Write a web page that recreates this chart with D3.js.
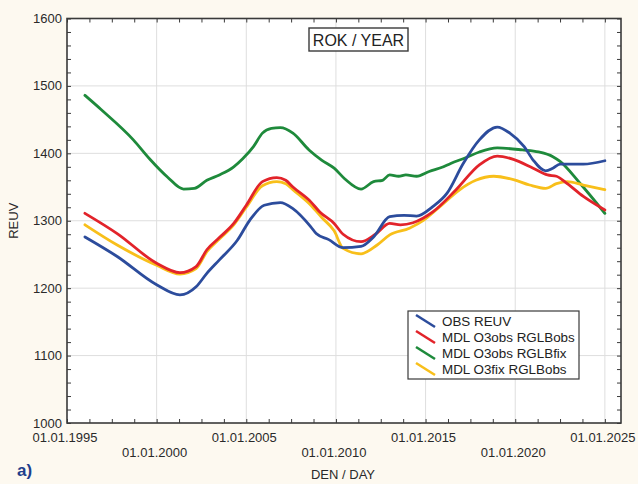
<!DOCTYPE html>
<html>
<head>
<meta charset="utf-8">
<script src="https://cdn.jsdelivr.net/npm/d3@7"></script>
<style>
  html, body { margin: 0; padding: 0; background: #fdf9f0; }
  svg { display: block; font-family: "Liberation Sans", Arial, sans-serif; }
</style>
</head>
<body>
<svg id="chart" width="638" height="484"></svg>
<script>
// Yearly running means of UV erythemal dose: observation and model runs
const obsReuv = [
  [1996,1276],[1997.8,1247],[2000,1205],[2001.3,1190],[2002.2,1202],[2002.8,1222],
  [2003.5,1242],[2004.5,1271],[2005.2,1301],[2006,1323],[2006.9,1327],[2007.6,1318],
  [2008.6,1291],[2008.9,1281],[2009.6,1272],[2010.4,1260],[2011.4,1262],[2012.1,1276],
  [2013,1306],[2013.8,1308],[2014.5,1307],[2015.4,1321],[2016.2,1341],[2017.1,1385],
  [2018,1420],[2019,1439],[2019.7,1430],[2020.5,1410],[2021,1390],[2021.7,1374],
  [2022.1,1378],[2022.5,1384],[2023.8,1384],[2025,1389]
];
const mdlO3obsRglbObs = [
  [1996,1311],[1997.8,1281],[2000,1237],[2001.3,1223],[2002.2,1232],
  [2002.8,1257],[2003.5,1275],[2004.3,1296],[2005,1323],[2005.9,1358],[2006.7,1364],
  [2007.2,1360],[2007.6,1350],[2008.6,1328],[2009.1,1313],[2009.9,1296],[2010.4,1280],
  [2011.4,1269],[2012.2,1280],[2013,1296],[2013.6,1294],[2014.3,1297],[2015.4,1313],
  [2016.7,1346],[2018,1383],[2019,1396],[2019.9,1391],[2021,1378],[2021.8,1368],
  [2022.3,1366],[2022.9,1355],[2023.8,1336],[2025,1316]
];
const mdlO3obsRglbFix = [
  [1996,1486],[1996.9,1465],[1998.7,1420],[1999.6,1392],[2000.6,1365],[2001.5,1347],
  [2002.1,1348],[2002.8,1360],[2003.5,1368],[2004.3,1380],[2004.8,1392],[2005.4,1410],
  [2005.9,1430],[2006.4,1437],[2006.9,1438],[2007.6,1430],[2008.5,1405],[2009.2,1390],
  [2009.9,1378],[2010.5,1362],[2011.4,1347],[2012.1,1358],[2012.6,1360],[2013,1368],
  [2013.5,1366],[2013.9,1368],[2014.5,1366],[2015.2,1373],[2016,1380],[2016.4,1385],
  [2017.2,1393],[2018,1402],[2019,1408],[2020.4,1405],[2021.3,1402],[2022.1,1395],
  [2022.5,1388],[2023.6,1356],[2025,1311]
];
const mdlO3fixRglbObs = [
  [1996,1294],[1997.8,1264],[2000,1234],[2001.3,1221],[2002.2,1229],[2002.8,1254],
  [2003.5,1273],[2004.3,1294],[2005,1320],[2005.9,1352],[2006.7,1358],[2007.2,1355],
  [2007.6,1346],[2008.6,1323],[2009.2,1305],[2009.9,1285],[2010.4,1259],[2011.4,1251],
  [2012.3,1264],[2013,1279],[2014.1,1289],[2014.9,1301],[2015.8,1321],[2016.9,1346],
  [2017.8,1360],[2018.8,1366],[2019.9,1361],[2020.8,1353],[2021.7,1348],[2022.3,1355],
  [2022.9,1358],[2023.8,1353],[2025,1346]
];

const seriesNames = ["OBS REUV", "MDL O3obs RGLBobs", "MDL O3obs RGLBfix", "MDL O3fix RGLBobs"];
const seriesColors = ["#2c4c9c", "#e2232a", "#1e8a3b", "#f8bf1a"];
const seriesData = [obsReuv, mdlO3obsRglbObs, mdlO3obsRglbFix, mdlO3fixRglbObs];
// draw order: green underneath, then the rest
const drawOrder = [2, 3, 1, 0];

const yearTicks = [1995, 2000, 2005, 2010, 2015, 2020, 2025];
const yearLabels = ["01.01.1995", "01.01.2000", "01.01.2005", "01.01.2010", "01.01.2015", "01.01.2020", "01.01.2025"];
const valueTicks = [1000, 1100, 1200, 1300, 1400, 1500, 1600];

const svg = d3.select("#chart");
const pLeft = 67, pRight = 621, pTop = 18.5, pBottom = 423;

const x = d3.scaleLinear().domain([1995, 2025.9]).range([pLeft, pRight]);
const y = d3.scaleLinear().domain([1000, 1600]).range([pBottom, pTop]);

// plot area
svg.append("rect").attr("x", pLeft).attr("y", pTop)
  .attr("width", pRight - pLeft).attr("height", pBottom - pTop).attr("fill", "#fff");

// grid
const grid = svg.append("g").attr("stroke", "#dedede").attr("stroke-width", 1);
grid.selectAll("line.vx").data(yearTicks.slice(1)).join("line")
  .attr("x1", d => x(d)).attr("x2", d => x(d)).attr("y1", pTop).attr("y2", pBottom);
grid.selectAll("line.hy").data(valueTicks.slice(1, -1)).join("line")
  .attr("x1", pLeft).attr("x2", pRight).attr("y1", d => y(d)).attr("y2", d => y(d));

// series
const line = d3.line().x(d => x(d[0])).y(d => y(d[1])).curve(d3.curveMonotoneX);
svg.append("g").selectAll("path").data(drawOrder).join("path")
  .attr("d", i => line(seriesData[i]))
  .attr("fill", "none")
  .attr("stroke", i => seriesColors[i])
  .attr("stroke-width", 2.8)
  .attr("stroke-linejoin", "round")
  .attr("stroke-linecap", "round");

// inward ticks on all four sides
const minorYears = d3.range(0, 25).map(k => 1995 + k * 1.25);
const minorVals = d3.range(1000, 1601, 20);
const tickLen = 4;
const axisCol = "#3a3a3a";
function styleAxis(g) {
  g.select(".domain").remove();
  g.selectAll(".tick line").attr("stroke", axisCol).attr("stroke-width", 1);
  g.selectAll(".tick text").remove();
}
svg.append("g").attr("transform", `translate(0,${pBottom})`)
  .call(d3.axisBottom(x).tickValues(minorYears).tickSize(-tickLen).tickFormat("")).call(styleAxis);
svg.append("g").attr("transform", `translate(0,${pTop})`)
  .call(d3.axisTop(x).tickValues(minorYears).tickSize(-tickLen).tickFormat("")).call(styleAxis);
svg.append("g").attr("transform", `translate(${pLeft},0)`)
  .call(d3.axisLeft(y).tickValues(minorVals).tickSize(-tickLen).tickFormat("")).call(styleAxis);
svg.append("g").attr("transform", `translate(${pRight},0)`)
  .call(d3.axisRight(y).tickValues(minorVals).tickSize(-tickLen).tickFormat("")).call(styleAxis);

// frame
svg.append("rect").attr("x", pLeft).attr("y", pTop)
  .attr("width", pRight - pLeft).attr("height", pBottom - pTop)
  .attr("fill", "none").attr("stroke", axisCol).attr("stroke-width", 1.6);

// value labels
svg.append("g").selectAll("text").data(valueTicks).join("text")
  .attr("x", pLeft - 5).attr("y", d => y(d) + 4.5)
  .attr("text-anchor", "end").attr("font-size", 13).attr("fill", "#2a2a2a")
  .text(d => d);

// date labels, alternating between two rows
svg.append("g").selectAll("text").data(yearTicks).join("text")
  .attr("x", d => x(d) - 2)
  .attr("y", (d, i) => i % 2 === 0 ? 442 : 457)
  .attr("text-anchor", "middle").attr("font-size", 13).attr("fill", "#2a2a2a")
  .text((d, i) => yearLabels[i]);

// axis titles
svg.append("text").attr("x", 343).attr("y", 479).attr("text-anchor", "middle")
  .attr("font-size", 13).attr("fill", "#2a2a2a").text("DEN / DAY");
svg.append("text").attr("transform", `translate(18,${(pTop + pBottom) / 2}) rotate(-90)`)
  .attr("text-anchor", "middle").attr("font-size", 13).attr("fill", "#2a2a2a").text("REUV");

// panel tag
svg.append("text").attr("x", 17).attr("y", 476).attr("font-size", 17)
  .attr("font-weight", "bold").attr("fill", "#1f3f8c").text("a)");

// title box
const tb = svg.append("g");
tb.append("rect").attr("x", 309).attr("y", 28).attr("width", 99).attr("height", 23)
  .attr("fill", "#fff").attr("stroke", axisCol).attr("stroke-width", 1.4);
tb.append("text").attr("x", 358.5).attr("y", 45.5).attr("text-anchor", "middle")
  .attr("font-size", 16).attr("fill", "#222").text("ROK / YEAR");

// legend
const lg = svg.append("g");
lg.append("rect").attr("x", 408).attr("y", 311).attr("width", 171).attr("height", 68)
  .attr("fill", "#fff").attr("stroke", axisCol).attr("stroke-width", 1.2);
const rows = lg.selectAll("g.row").data(seriesNames).join("g")
  .attr("transform", (d, i) => `translate(0,${i * 16})`);
rows.append("line").attr("x1", 416).attr("y1", 315).attr("x2", 435).attr("y2", 327)
  .attr("stroke", (d, i) => seriesColors[i]).attr("stroke-width", 2.6);
rows.append("text").attr("x", 442).attr("y", 326).attr("font-size", 13.4)
  .attr("fill", "#222").text(d => d);
</script>
</body>
</html>
